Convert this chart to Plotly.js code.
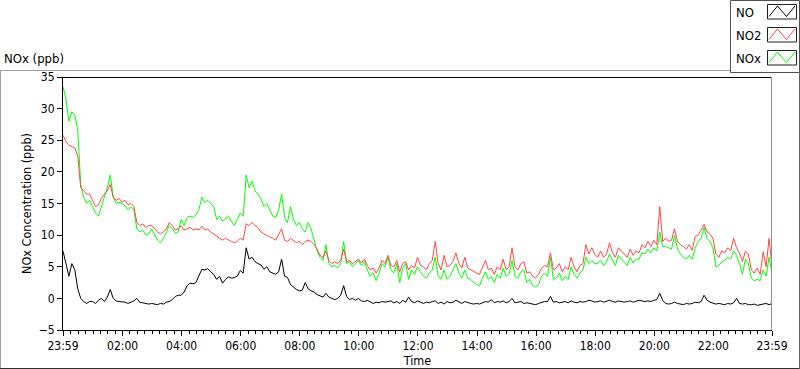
<!DOCTYPE html>
<html>
<head>
<meta charset="utf-8">
<script src="https://cdn.plot.ly/plotly-3.0.1.min.js"></script>
<style>html,body{margin:0;padding:0;background:#fff;}#chart{width:800px;height:369px;}</style>
</head>
<body>
<div id="chart"></div>
<script>
// ---- data (sampled every 6 minutes, starting 23:59) ----
const stepMinutes = 6;
const tickValsMin = [0, 121, 241, 361, 481, 601, 721, 841, 961, 1081, 1201, 1321, 1440];
const tickLabels = ["23:59", "02:00", "04:00", "06:00", "08:00", "10:00", "12:00", "14:00", "16:00", "18:00", "20:00", "22:00", "23:59"];
const seriesNames = ["NO", "NO2", "NOx"];

const noValues = [
  7.5, 5.5, 3.5, 5.5, 4.5, 1.5, 0, -0.5, -0.8, -0.5,
  -0.5, -0.8, -0.3, 0, -0.5, 0.2, 1.4, 0, -0.4, -0.5,
  -0.5, -0.6, -0.8, -0.6, -0.4, 0, -0.6, -0.7, -0.8, -0.9,
  -0.8, -0.9, -1.0, -0.8, -0.9, -0.6, -0.5, -0.2, 0.3, 0.5,
  0.5, 1.0, 2, 2.4, 2.3, 2.5, 3.5, 4.6, 4.5, 4.7,
  4.2, 3.8, 3, 3.5, 2.4, 3, 3.4, 3.2, 3.3, 3.5,
  4.4, 4, 8, 6.2, 6.5, 5.8, 5.5, 5.3, 4.6, 5,
  4.2, 4, 3.8, 4.2, 6.2, 3.5, 3.3, 2.2, 1.8, 1.4,
  1.2, 1.3, 2.5, 1.5, 1.2, 1, 0.6, 0.4, 0.2, 0.8,
  0.2, 0, -0.2, 0, 0.5, 2, 0.3, -0.2, 0, -0.3,
  0, -0.4, -0.5, -0.3, -0.5, -0.8, -0.6, -0.7, -0.5, -0.6,
  -0.5, -0.4, -0.7, -0.5, -0.8, -0.3, -0.6, 0.2, -0.5, -0.7,
  -0.4, -0.6, -0.8, -0.6, -0.7, -0.5, -0.4, -0.8, -0.6, -0.9,
  -0.5, -0.7, -0.6, -0.3, -0.6, -0.8, -0.5, -0.7, -0.8, -0.9,
  -0.8, -0.9, -0.7, -0.5, -0.6, -0.2, -0.7, -0.5, -0.6, -0.4,
  -0.7, -0.5, 0, -0.7, -0.6, -0.5, -0.8, -0.7, -0.8, -0.9,
  -1, -0.8, -0.6, -0.5, -0.5, 0.3, -0.6, -0.5, -0.7, -0.6,
  -0.5, -0.7, -0.4, -0.6, -0.7, -0.5, -0.6, -0.5, -0.3, -0.4,
  -0.6, -0.5, -0.4, -0.6, -0.5, -0.3, -0.5, -0.6, -0.4, -0.5,
  -0.6, -0.5, -0.4, -0.6, -0.5, -0.3, -0.4, -0.5, -0.4, -0.5,
  -0.3, -0.2, 0.8, -0.3, -0.8, -0.9, -0.8, -0.6, -0.8, -0.9,
  -1, -0.8, -0.9, -0.8, -0.6, -0.7, -0.5, 0.5, -0.3, -0.6,
  -0.8, -0.9, -0.8, -0.9, -1, -0.8, -0.9, -0.7, 0, -0.8,
  -0.9, -0.8, -1, -1, -0.9, -1.1, -1, -0.9, -0.8, -1, -0.8
];

const no2Values = [
  25.8, 24.8, 24.2, 24, 23.8, 22.5, 17.5, 17, 16.5, 16.5,
  15.5, 14.5, 14.8, 15.8, 16.5, 17, 18, 16, 15.5, 15.8,
  15.2, 15.5, 14.8, 15, 14.5, 12, 11.5, 11.8, 11.2, 11.5,
  11.5, 11, 10.5, 10.2, 10.5, 11, 12, 11.5, 10.8, 11,
  11.5, 10.8, 11, 11.2, 10.8, 11, 10.8, 11.4, 10.8, 11,
  10.5, 10.2, 9.8, 9.5, 9.2, 9.5, 9.2, 9, 8.8, 9,
  9.5, 9.2, 11.8, 11.5, 12, 11.5, 11.2, 10.5, 10.2, 10,
  9.8, 9.5, 9.2, 10, 11, 9.2, 9, 9.5, 9.2, 8.8,
  9, 8.5, 9, 9.2, 9, 8.5, 7.8, 6.8, 6.5, 7.5,
  6, 5.5, 5.8, 5.5, 6, 7.8, 5.8, 6, 5.5, 5.8,
  6.2, 5.6, 6.2, 5.2, 4.5, 4.8, 4, 4.8, 6, 5.5,
  6.8, 5.2, 5, 6, 4.2, 5.5, 5.8, 4.5, 5.2, 4.8,
  6.5, 5.2, 5, 4.5, 5.5, 6, 9, 5.5, 4.5, 6.8,
  5, 5.2, 5.8, 7.2, 5.5, 4.8, 6.5, 4.8, 4.5, 4.2,
  4, 3.8, 5, 6, 4.5, 4.8, 3.8, 5, 4.5, 6.2,
  4.5, 5, 8, 5, 4.5, 5.5, 5.8, 4, 4.2, 3.5,
  3.2, 3.8, 4.8, 5.2, 5, 7.2, 4.5, 4.8, 5.5, 4.2,
  5, 4.5, 6.5, 5, 4.2, 5.2, 5.5, 8.5, 7, 8,
  7, 6.5, 7.5, 6.5, 7, 8.8, 7.2, 6.5, 8, 7.5,
  7, 6.5, 7.8, 6.8, 7.5, 7.2, 8.5, 8, 9, 8.2,
  9.2, 8.5, 14.5, 9, 9.5, 9, 9.2, 11, 9, 8.5,
  8.2, 7.8, 8.5, 7.6, 9.8, 10, 10.8, 11.7, 10.5, 10.2,
  9.5, 7, 6.5, 7.5, 7.2, 8, 7.5, 9.5, 8, 7.2,
  5.8, 7.5, 7, 4.5, 4, 4.8, 3.8, 7.4, 5, 9.5, 5
];

const noxValues = [
  33.5, 31.5, 28, 29.5, 29, 26.5, 18, 16, 15, 15.5,
  14.5, 13.5, 13, 14.5, 16, 17.5, 19.5, 16, 15, 15.2,
  15, 14.6, 14, 14.5, 14, 11, 10.5, 10.8, 10, 10.2,
  11, 10.2, 9.2, 8.8, 9.5, 10.5, 11.5, 11, 10.3, 10.5,
  12.5, 11.5, 12.8, 13, 12.8, 13.2, 14, 16, 15.2, 15.5,
  15, 14.5, 12.5, 13, 12.2, 12.6, 13, 12.2, 11.5, 12.5,
  13.5, 13, 19.5, 17.5, 18.5, 17, 16.5, 15.8, 14.5, 15,
  14, 13, 12.8, 14, 16.5, 12.8, 12, 14.5, 12.5, 11.5,
  12, 11, 10.5, 12, 11, 9, 7.5, 6.5, 6, 8.5,
  5.5, 5, 5.2, 4.8, 5.5, 9, 5.5, 5.8, 5, 5.5,
  6, 5.2, 5.8, 4.5, 3.5, 4, 2.8, 4, 5.5, 5,
  6.5, 4.5, 4, 5.5, 2.5, 4.8, 5.5, 3, 4.5, 3.8,
  5, 4.2, 3.5, 3.2, 4, 4.5, 6.5, 3.5, 3, 4.5,
  3, 3.5, 4.5, 5.5, 4, 3.2, 4.5, 3.2, 3, 2.5,
  2.2, 2, 3.2, 4.2, 3, 3.5, 2.5, 3.8, 3.2, 4.8,
  3.5, 3.8, 6, 3.5, 3.2, 4.2, 4.5, 2.5, 3, 2,
  1.8, 2.2, 3.5, 4, 3.5, 6.5, 3, 3.2, 4, 2.8,
  3.5, 3, 5, 3.8, 3.2, 4, 4.5, 6.5, 5.5, 6,
  5.5, 5.5, 6, 5.2, 5.8, 7, 6, 5.2, 6.8, 6.2,
  5.8, 5.2, 6.5, 5.6, 6.2, 6.2, 7.2, 7, 7.8, 7.2,
  8, 7.5, 10.5, 8.2, 8.2, 8, 7.8, 10, 7.8, 7,
  6.5, 6.2, 6.8, 6.2, 8, 9, 9.5, 11.2, 9.5, 9,
  8, 5, 5.2, 5.8, 6, 6.5, 6.2, 7.5, 6.8, 5.5,
  3.8, 6.2, 5.5, 3.2, 2.8, 3, 2.8, 4.5, 3.5, 6.5, 4
];

const minutesSinceStart = noValues.map((_, i) => i * stepMinutes);

// ---- styling ----
const colors = {NO: "#000000", NO2: "#ff4646", NOx: "#00ff00"};
const W = 800, H = 369;
const M = {l: 63, r: 28, t: 77, b: 39};
const PW = W - M.l - M.r, PH = H - M.t - M.b;
const FONT = "DejaVu Sans Condensed, DejaVu Sans, sans-serif";
const px = x => (x - M.l) / PW;
const py = y => (H - M.b - y) / PH;

const traces = [
  {x: minutesSinceStart, y: noxValues, name: "NOx", type: "scatter", mode: "lines", line: {color: colors.NOx, width: 1}},
  {x: minutesSinceStart, y: no2Values, name: "NO2", type: "scatter", mode: "lines", line: {color: colors.NO2, width: 1}},
  {x: minutesSinceStart, y: noValues, name: "NO", type: "scatter", mode: "lines", line: {color: colors.NO, width: 1}}
];

const shapes = [];
const annotations = [];
function line(x0, y0, x1, y1, color, width) {
  shapes.push({type: "line", xref: "paper", yref: "paper", x0: px(x0), y0: py(y0), x1: px(x1), y1: py(y1),
    line: {color: color, width: width || 1}, layer: "above"});
}
// outer panel frame
line(0, 70.5, 730, 70.5, "#a0a0a0");
line(0.5, 70, 0.5, 369, "#a0a0a0");
line(0, 368.5, 800, 368.5, "#303030");
line(799.5, 70, 799.5, 369, "#606060");
// plot frame top/right
line(63, 77.5, 772, 77.5, "#000000");
line(771.5, 77, 771.5, 330, "#909090");
// legend box
shapes.push({type: "rect", xref: "paper", yref: "paper", x0: px(730.5), y0: py(0.5), x1: px(799.5), y1: py(72.5),
  line: {color: "#505050", width: 1}, fillcolor: "#ffffff", layer: "above"});
const legendTops = [4, 27, 50];
seriesNames.forEach((name, k) => {
  const T = legendTops[k];
  shapes.push({type: "rect", xref: "paper", yref: "paper", x0: px(767.5), y0: py(T + 0.5), x1: px(796.5), y1: py(T + 15),
    line: {color: "#202020", width: 1}, fillcolor: "#ffffff", layer: "above"});
  const pts = [[769, T + 12.5], [777.5, T + 2], [786.5, T + 12.5], [795, T + 2]];
  const path = "M" + pts.map(p => px(p[0]) + "," + py(p[1])).join(" L");
  shapes.push({type: "path", xref: "paper", yref: "paper", path: path,
    line: {color: colors[name], width: 1}, layer: "above"});
  annotations.push({xref: "paper", yref: "paper", x: px(734), y: py(T + 8.5), xanchor: "left", yanchor: "middle",
    text: name, showarrow: false, font: {family: FONT, size: 13, color: "#000"}});
});

const layout = {
  width: W, height: H,
  margin: M,
  paper_bgcolor: "#ffffff",
  plot_bgcolor: "#ffffff",
  font: {family: FONT, size: 12, color: "#000"},
  showlegend: false,
  title: {text: "NOx (ppb)", x: 4 / W, xref: "container", xanchor: "left", y: 1 - 58 / H, yref: "container", yanchor: "middle",
    font: {family: FONT, size: 13, color: "#000"}},
  xaxis: {
    range: [0, 1440],
    tickmode: "array", tickvals: tickValsMin, ticktext: tickLabels,
    ticks: "outside", ticklen: 5, tickwidth: 1, tickcolor: "#000",
    minor: {ticks: "outside", ticklen: 3, tickwidth: 1, tickcolor: "#000", dtick: 15, tick0: 1, showgrid: false},
    showline: true, linecolor: "#000", linewidth: 1,
    showgrid: false, zeroline: false,
    tickfont: {family: FONT, size: 12, color: "#000"},
    title: {text: "Time", standoff: 2, font: {family: FONT, size: 12.5, color: "#000"}}
  },
  yaxis: {
    range: [-5, 35], dtick: 5, tick0: 0,
    ticks: "outside", ticklen: 5, tickwidth: 1, tickcolor: "#000",
    showline: true, linecolor: "#000", linewidth: 1,
    showgrid: false, zeroline: false,
    tickfont: {family: FONT, size: 12, color: "#000"},
    title: {text: "NOx Concentration (ppb)", standoff: 4, font: {family: FONT, size: 12.5, color: "#000"}}
  },
  shapes: shapes,
  annotations: annotations
};

Plotly.newPlot("chart", traces, layout, {displayModeBar: false, staticPlot: true});
</script>
</body>
</html>
